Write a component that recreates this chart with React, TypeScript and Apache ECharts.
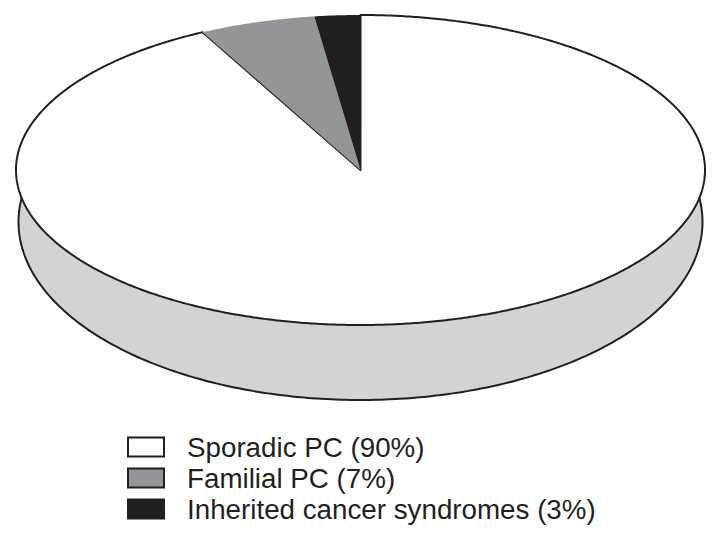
import React, { useEffect, useRef } from "react";
import * as echarts from "echarts";

const sliceNames = ["Sporadic PC (90%)", "Familial PC (7%)", "Inherited cancer syndromes (3%)"];
const sliceValues = [90, 7, 3];
const sliceColors = ["#ffffff", "#939598", "#231f20"];

const INK = "#231f20";
const WALL = "#d1d3d4";
const CX = 360.5, CY = 170, RX = 344.5, RY = 155;
const FORESHORTEN = 0.71; // the drawing compresses angles near the top of the disc
const WALL_CY = 222, WALL_RX = 342, WALL_RY = 178, WALL_TOP_Y = 194;

function rimPoint(shareFromTop: number): number[] {
  const a = (shareFromTop / 100) * Math.PI * 2;
  const t = Math.atan2(FORESHORTEN * Math.sin(a), Math.cos(a));
  return [CX + RX * Math.sin(t), CY - RY * Math.cos(t)];
}

function wedge(from: number, to: number): number[][] {
  const pts: number[][] = [[CX, CY]];
  const n = Math.max(8, Math.ceil((to - from) * 6));
  for (let i = 0; i <= n; i++) pts.push(rimPoint(from + ((to - from) * i) / n));
  return pts;
}

function wallOutline(): number[][] {
  const pts: number[][] = [];
  const t0 = Math.acos((WALL_TOP_Y - WALL_CY) / WALL_RY);
  const n = 240;
  for (let i = 0; i <= n; i++) {
    const t = t0 - (2 * t0 * i) / n; // bottom arc from right to left
    pts.push([CX + WALL_RX * Math.sin(t), WALL_CY + WALL_RY * Math.cos(t)]);
  }
  return pts;
}

function makeSeries(index: number) {
  const start = sliceValues.slice(0, index).reduce((s, v) => s + v, 0);
  return {
    type: "custom",
    name: sliceNames[index],
    coordinateSystem: "none",
    silent: true,
    z: 2 + index,
    data: [[sliceValues[index]]],
    itemStyle: { color: sliceColors[index], borderColor: INK, borderWidth: 2.2 },
    renderItem: (_p: any, api: any) => {
      const value = api.value(0) as number;
      const children: any[] = [];
      if (index === 0) {
        children.push({
          type: "polygon",
          shape: { points: wallOutline() },
          style: { fill: WALL, stroke: INK, lineWidth: 2 },
        });
      }
      children.push({
        type: "polygon",
        shape: { points: wedge(start, start + value) },
        style: {
          fill: sliceColors[index],
          stroke: index === 0 ? INK : "none",
          lineWidth: 2,
          lineJoin: "round",
        },
      });
      return { type: "group", children };
    },
  };
}

export default function App() {
  const ref = useRef<HTMLDivElement>(null);
  useEffect(() => {
    if (!ref.current) return;
    const chart = echarts.init(ref.current, undefined, { renderer: "svg" });
    chart.setOption({
      animation: false,
      backgroundColor: "#ffffff",
      legend: {
        orient: "vertical",
        left: 127,
        top: 433,
        padding: 0,
        icon: "rect",
        itemWidth: 36,
        itemHeight: 19,
        itemGap: 3,
        selectedMode: false,
        data: sliceNames,
        textStyle: {
          fontFamily: "Liberation Sans",
          fontSize: 27.75,
          color: INK,
          padding: [0, 0, 0, 18],
        },
      },
      series: sliceValues.map((_, i) => makeSeries(i)),
    });
    return () => chart.dispose();
  }, []);
  return <div ref={ref} style={{ position: "absolute", left: 0, top: 0, width: 721, height: 540 }} />;
}
